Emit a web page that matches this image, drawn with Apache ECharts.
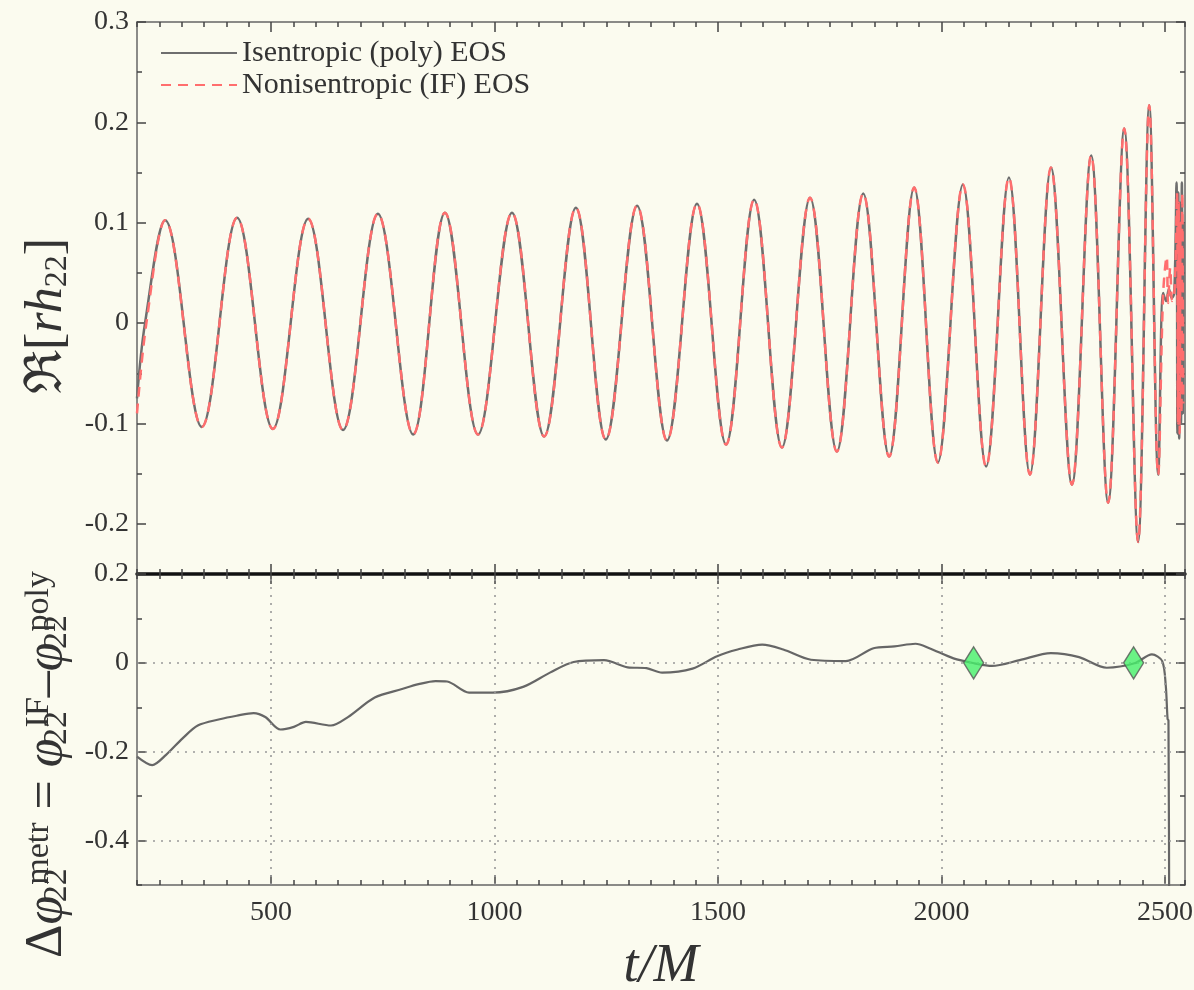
<!DOCTYPE html>
<html>
<head>
<meta charset="utf-8">
<script src="https://cdn.jsdelivr.net/npm/echarts@6/dist/echarts.min.js"></script>
<style>
  html, body { margin: 0; padding: 0; background: #fbfbef; }
  #chart { width: 1194px; height: 990px; }
</style>
</head>
<body>
<div id="chart"></div>
<script>
// axis limits and tick labels
const tMin = 200, tMax = 2545;
const xTickLabels = [500, 1000, 1500, 2000, 2500];
const topYTicks = [-0.2, -0.1, 0, 0.1, 0.2, 0.3];
const bottomYTicks = [-0.4, -0.2, 0, 0.2];
const gridX = [500, 1000, 1500, 2000, 2500];
const gridY = [0, -0.2, -0.4];

// Re[r h22]: extrema of the inspiral (both EOS lie on top of each other)
const waveT = [263, 345, 424, 504, 583, 661, 739, 818, 889, 963, 1039, 1111, 1182, 1249,
  1319, 1386, 1453, 1518, 1581, 1643, 1706, 1766, 1825, 1883, 1939, 1992, 2048, 2100,
  2151, 2198, 2245, 2292, 2335, 2373, 2409, 2440, 2465, 2485];
const waveH = [0.1025, -0.1035, 0.105, -0.1055, 0.104, -0.1065, 0.109, -0.111, 0.110, -0.111,
  0.110, -0.113, 0.115, -0.116, 0.117, -0.117, 0.119, -0.121, 0.123, -0.124, 0.125, -0.128,
  0.129, -0.133, 0.135, -0.139, 0.138, -0.143, 0.145, -0.151, 0.155, -0.161, 0.167, -0.179,
  0.194, -0.218, 0.217, -0.151];

// start and post-merger part of each run
const polyHeadT = [200, 218];
const polyHeadH = [-0.075, 0];
const polyTailT = [2496, 2503, 2509, 2515, 2521, 2526, 2528, 2530, 2532, 2534, 2536, 2538, 2540, 2542];
const polyTailH = [0.03, 0.022, 0.034, 0.025, 0.03, 0.14, -0.11, 0.13, -0.115, 0.12, -0.10, 0.14, -0.09, 0.1];
const ifHeadT = [200, 221];
const ifHeadH = [-0.09, 0];
const ifTailT = [2496, 2504, 2507, 2512, 2516, 2522, 2527, 2529, 2531, 2533, 2535, 2537, 2539, 2541];
const ifTailH = [0.028, 0.066, 0.02, 0.055, 0.022, 0.035, 0.13, -0.1, 0.12, -0.11, 0.1, -0.09, 0.13, -0.08];

// phase difference IF - poly
const dphiT = [200, 234, 265, 302, 336, 385, 423, 461, 487, 521, 551, 578, 634, 672, 732, 793,
  830, 868, 894, 943, 996, 1064, 1124, 1177, 1245, 1298, 1340, 1375, 1443, 1498, 1544, 1599,
  1646, 1708, 1786, 1848, 1895, 1942, 1973, 2027, 2074, 2113, 2175, 2245, 2308, 2370, 2432,
  2471, 2494, 2502, 2506, 2508, 2510];
const dphiV = [-0.211, -0.230, -0.207, -0.170, -0.141, -0.127, -0.119, -0.113, -0.122, -0.150,
  -0.144, -0.133, -0.141, -0.122, -0.078, -0.059, -0.048, -0.041, -0.042, -0.067, -0.067,
  -0.054, -0.022, 0.002, 0.006, -0.010, -0.012, -0.022, -0.013, 0.015, 0.030, 0.041, 0.030,
  0.007, 0.004, 0.033, 0.037, 0.043, 0.033, 0.010, -0.001, -0.007, 0.006, 0.022, 0.013,
  -0.011, -0.001, 0.019, 0.004, -0.052, -0.126, -0.13, -0.7];

// alignment markers
const markT = [2072, 2430];
const markV = [0, 0];

const zip = (a, b) => a.map((v, i) => [v, b[i]]);
const isTick = (v, list) => list.some(t => Math.abs(t - v) < 1e-6);
const serif = 'Liberation Serif';
const txt = '#333';

function xAx(grid, pos, line, ticks) {
  return {
    type: 'value', gridIndex: grid, position: pos, min: tMin, max: tMax,
    interval: ticks ? undefined : 50,
    axisLine: line ? { show: true, onZero: false, lineStyle: line } : { show: false, onZero: false },
    axisTick: ticks
      ? { show: true, inside: true, length: 10, customValues: ticks, lineStyle: { color: '#444', width: 1.5 } }
      : { show: true, inside: true, length: 5, lineStyle: { color: '#444', width: 1.5 } },
    axisLabel: { show: false },
    splitLine: { show: false }
  };
}
function yAx(grid, pos, min, max, step, ticks) {
  return {
    type: 'value', gridIndex: grid, position: pos, min: min, max: max,
    interval: ticks ? undefined : step,
    axisLine: ticks ? { show: false, onZero: false } : { show: true, onZero: false, lineStyle: { color: '#666', width: 1.5 } },
    axisTick: ticks
      ? { show: true, inside: true, length: 9, customValues: ticks, lineStyle: { color: '#444', width: 1.5 } }
      : { show: true, inside: true, length: 5, lineStyle: { color: '#444', width: 1.5 } },
    axisLabel: { show: false },
    splitLine: { show: false }
  };
}

const gray = { color: '#666', width: 1.5 };
const black = { color: '#111', width: 3.5 };

const xAxes = [
  xAx(0, 'bottom', black),
  xAx(0, 'top', gray),
  xAx(1, 'top', null),
  xAx(1, 'bottom', gray),
  xAx(0, 'bottom', null, xTickLabels),
  xAx(0, 'top', null, xTickLabels),
  xAx(1, 'top', null, xTickLabels),
  xAx(1, 'bottom', null, xTickLabels)
];
xAxes[3].axisLabel = {
  show: true, margin: 14, fontFamily: serif, fontSize: 28, color: txt,
  formatter: v => isTick(v, xTickLabels) ? String(v) : ''
};
xAxes[3].name = 't/M';
xAxes[3].nameLocation = 'middle';
xAxes[3].nameGap = 55;
xAxes[3].nameTextStyle = { fontFamily: serif, fontStyle: 'italic', fontSize: 54, color: txt };

const yAxes = [
  yAx(0, 'left', -0.25, 0.3, 0.05),
  yAx(0, 'right', -0.25, 0.3, 0.05),
  yAx(1, 'left', -0.5, 0.2, 0.1),
  yAx(1, 'right', -0.5, 0.2, 0.1),
  yAx(0, 'left', -0.25, 0.3, 0.05, topYTicks),
  yAx(0, 'right', -0.25, 0.3, 0.05, topYTicks),
  yAx(1, 'left', -0.5, 0.2, 0.1, bottomYTicks),
  yAx(1, 'right', -0.5, 0.2, 0.1, bottomYTicks)
];
yAxes[0].axisLabel = {
  show: true, margin: 8, fontFamily: serif, fontSize: 28, color: txt,
  formatter: v => isTick(v, topYTicks) ? String(+v.toFixed(1)) : ''
};
yAxes[2].axisLabel = {
  show: true, margin: 8, fontFamily: serif, fontSize: 28, color: txt,
  formatter: v => isTick(v, bottomYTicks) ? String(+v.toFixed(1)) : ''
};
const nameRich = {
  n: { fontFamily: serif, fontSize: 52, color: txt },
  i: { fontFamily: serif, fontSize: 52, fontStyle: 'italic', color: txt },
  s: { fontFamily: serif, fontSize: 32, color: txt, verticalAlign: 'bottom' },
  t: { fontFamily: serif, fontSize: 10, color: txt },
  s0: { fontFamily: serif, fontSize: 34, color: txt, verticalAlign: 'bottom', align: 'left', width: 1 },
  p: { fontFamily: serif, fontSize: 34, color: txt, verticalAlign: 'top' }
};
yAxes[0].name = '{n|ℜ[}{i|rh}{s|22}{n|]}';
yAxes[0].nameLocation = 'middle';
yAxes[0].nameRotate = 90;
yAxes[0].nameGap = 62;
yAxes[0].nameTextStyle = { rich: nameRich, padding: [0, 36, 0, 0] };
yAxes[2].name = '{n|Δ}{i|φ}{t|\u2003}{s0|22}{p|metr}{n| = }{i|φ}{t|\u2003}{s0|22}{p|IF}{n|–}{i|φ}{t|\u2003}{s0|22}{p|poly}';
yAxes[2].nameLocation = 'middle';
yAxes[2].nameRotate = 90;
yAxes[2].nameGap = 58;
yAxes[2].nameTextStyle = { rich: nameRich, padding: [0, 70, 0, 0] };

const chart = echarts.init(document.getElementById('chart'));
chart.setOption({
  backgroundColor: '#fbfbef',
  animation: false,
  textStyle: { fontFamily: serif },
  grid: [
    { left: 137, top: 22, width: 1048, height: 552, outerBoundsMode: 'none' },
    { left: 137, top: 574, width: 1048, height: 311, outerBoundsMode: 'none' }
  ],
  legend: {
    data: ['Isentropic (poly) EOS', 'Nonisentropic (IF) EOS'],
    orient: 'vertical', left: 155, top: 33,
    itemWidth: 76, itemHeight: 14, itemGap: 2,
    itemStyle: { opacity: 0 },
    textStyle: { fontFamily: serif, fontSize: 30, lineHeight: 27, color: txt }
  },
  xAxis: xAxes,
  yAxis: yAxes,
  series: [
    {
      name: 'Isentropic (poly) EOS', type: 'line', xAxisIndex: 0, yAxisIndex: 0,
      data: zip(polyHeadT.concat(waveT, polyTailT), polyHeadH.concat(waveH, polyTailH)),
      smooth: 0.363, symbol: 'none', z: 2,
      lineStyle: { color: '#6e6e6e', width: 2.5 }, itemStyle: { color: '#6e6e6e' }
    },
    {
      name: 'Nonisentropic (IF) EOS', type: 'line', xAxisIndex: 0, yAxisIndex: 0,
      data: zip(ifHeadT.concat(waveT, ifTailT), ifHeadH.concat(waveH, ifTailH)),
      smooth: 0.363, symbol: 'none', z: 3,
      lineStyle: { color: '#ff6e6e', width: 2.5, type: [10, 7] }, itemStyle: { color: '#ff6e6e' }
    },
    {
      type: 'line', xAxisIndex: 3, yAxisIndex: 2,
      data: zip(dphiT, dphiV), smooth: 0.3, symbol: 'none', z: 3,
      lineStyle: { color: '#666', width: 2.2 },
      markLine: {
        silent: true, symbol: ['none', 'none'], label: { show: false },
        lineStyle: { color: '#999', width: 1.6, type: [2, 6] },
        data: gridX.map(v => ({ xAxis: v })).concat(gridY.map(v => ({ yAxis: v })))
      }
    },
    {
      type: 'scatter', xAxisIndex: 3, yAxisIndex: 2,
      data: zip(markT, markV), symbol: 'diamond', symbolSize: [20, 32], z: 5,
      itemStyle: { color: '#46f06a', borderColor: '#555', borderWidth: 1.5 }
    }
  ]
});
</script>
</body>
</html>
